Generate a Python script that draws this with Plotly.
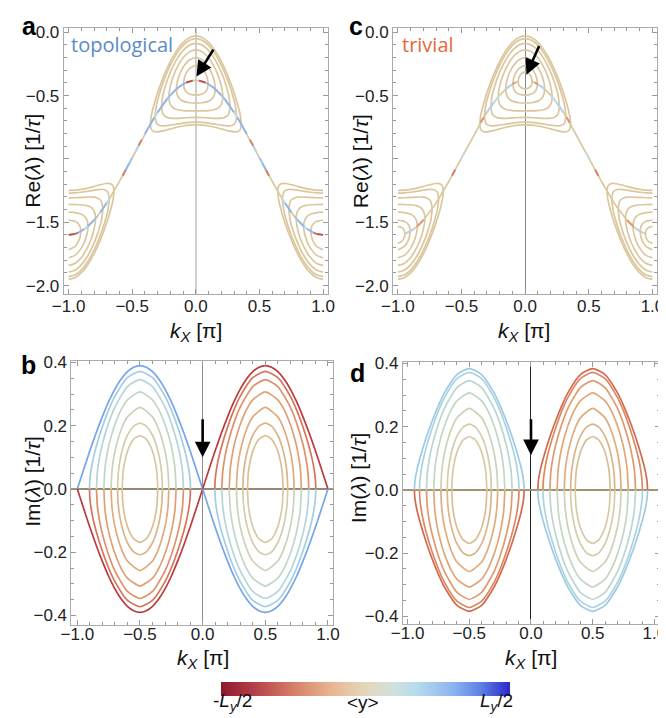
import plotly.graph_objects as go
from plotly.colors import sample_colorscale

# ---------------------------------------------------------------- data
# Re(lambda): degenerate "spine" branch, read on kx in [-1, 0] (figure is mirror symmetric)
spine_kx = [-1.0, -0.975, -0.95, -0.925, -0.9, -0.875, -0.85, -0.825, -0.8, -0.775,
            -0.75, -0.725, -0.7, -0.675, -0.65, -0.625, -0.6, -0.575, -0.55, -0.525,
            -0.5, -0.475, -0.45, -0.425, -0.4, -0.375, -0.35, -0.325, -0.3, -0.275,
            -0.25, -0.225, -0.2, -0.175, -0.15, -0.125, -0.1, -0.075, -0.05, -0.025, 0.0]
spine_re = [-1.6, -1.5981, -1.5925, -1.5832, -1.5701, -1.5536, -1.5335, -1.5101, -1.4835, -1.4538,
            -1.4213, -1.3862, -1.3486, -1.3087, -1.2669, -1.2234, -1.1785, -1.1324, -1.0854, -1.0379,
            -0.99, -0.9421, -0.8946, -0.8476, -0.8015, -0.7566, -0.7131, -0.6713, -0.6314, -0.5938,
            -0.5587, -0.5262, -0.4965, -0.4699, -0.4465, -0.4264, -0.4098, -0.3968, -0.3875, -0.3819, -0.38]
# <y> of the spine between consecutive grid points (None = branch absent)
spine_y_topo = [-0.35, -0.35, -0.3, 0.3, 0.3, 0.15, 0.3, 0.3, 0.25, 0.05,
                0.3, 0.3, 0.15, 0.05, 0.0, 0.0, 0.05, -0.25, 0.3, 0.25,
                0.05, 0.2, -0.25, 0.05, 0.3, 0.3, 0.3, 0.15, 0.3, 0.3,
                0.3, 0.25, 0.3, 0.3, 0.3, 0.3, 0.3, -0.35, -0.35, 0.0]
spine_y_triv = [None, None, 0.0, 0.2, 0.2, 0.0, -0.2, -0.2, 0.0, 0.0,
                0.0, 0.0, 0.0, 0.0, 0.0, 0.0, 0.0, -0.25, 0.0, 0.0,
                0.15, 0.0, 0.0, 0.0, 0.0, 0.0, -0.2, 0.0, 0.2, 0.2,
                0.15, 0.15, 0.0, 0.0, 0.2, 0.2, -0.2, 0.0, None, None]

# split (real) branches of Re(lambda): offset w from kx=0 (centre) or from kx=+-1 (edge)
re_w = [
    [0, 0.05, 0.075, 0.09, 0.097],
    [0, 0.05, 0.1, 0.125, 0.14, 0.15, 0.1528],
    [0, 0.05, 0.1, 0.15, 0.175, 0.19, 0.2, 0.21, 0.2117],
    [0, 0.05, 0.1, 0.15, 0.2, 0.225, 0.25, 0.26, 0.2698],
    [0, 0.05, 0.1, 0.15, 0.2, 0.25, 0.275, 0.3, 0.31, 0.321],
    [0, 0.05, 0.1, 0.15, 0.2, 0.25, 0.3, 0.325, 0.34, 0.35, 0.3575],
]
re_center_upper = [
    [-0.263, -0.2876, -0.3232, -0.3612, -0.4081],
    [-0.2, -0.2185, -0.2758, -0.3254, -0.3691, -0.4145, -0.4489],
    [-0.1394, -0.1547, -0.2015, -0.2835, -0.3419, -0.3863, -0.4235, -0.48, -0.51],
    [-0.0876, -0.1015, -0.1434, -0.2138, -0.315, -0.3802, -0.4615, -0.5045, -0.5863],
    [-0.0502, -0.0633, -0.1028, -0.1682, -0.2593, -0.3777, -0.4495, -0.5352, -0.5783, -0.6645],
    [-0.0286, -0.0414, -0.0797, -0.1429, -0.2301, -0.3409, -0.4766, -0.5577, -0.6142, -0.6606, -0.7261],
]
re_center_lower = [
    [-0.497, -0.4874, -0.4704, -0.4472, -0.4081],
    [-0.56, -0.5565, -0.5438, -0.5274, -0.5071, -0.4785, -0.4489],
    [-0.6206, -0.6203, -0.6181, -0.6095, -0.5979, -0.5847, -0.5695, -0.536, -0.51],
    [-0.6724, -0.6735, -0.6762, -0.6792, -0.678, -0.6722, -0.6559, -0.6405, -0.5863],
    [-0.7098, -0.7117, -0.7168, -0.7248, -0.7337, -0.7397, -0.7383, -0.7276, -0.7159, -0.6645],
    [-0.7314, -0.7336, -0.7399, -0.7501, -0.7629, -0.7765, -0.7862, -0.7849, -0.778, -0.7656, -0.7261],
]
re_edge_upper = [
    [-1.483, -1.4926, -1.5096, -1.5328, -1.5719],
    [-1.42, -1.4235, -1.4362, -1.4526, -1.4729, -1.5015, -1.5311],
    [-1.3594, -1.3597, -1.3619, -1.3705, -1.3821, -1.3953, -1.4105, -1.444, -1.47],
    [-1.3076, -1.3065, -1.3038, -1.3008, -1.302, -1.3078, -1.3241, -1.3395, -1.3937],
    [-1.2702, -1.2683, -1.2632, -1.2552, -1.2463, -1.2403, -1.2417, -1.2524, -1.2641, -1.3155],
    [-1.2486, -1.2464, -1.2401, -1.2299, -1.2171, -1.2035, -1.1938, -1.1951, -1.202, -1.2144, -1.2539],
]
re_edge_lower = [
    [-1.717, -1.6924, -1.6568, -1.6188, -1.5719],
    [-1.78, -1.7615, -1.7042, -1.6546, -1.6109, -1.5655, -1.5311],
    [-1.8406, -1.8253, -1.7785, -1.6965, -1.6381, -1.5937, -1.5565, -1.5, -1.47],
    [-1.8924, -1.8785, -1.8366, -1.7662, -1.665, -1.5998, -1.5185, -1.4755, -1.3937],
    [-1.9298, -1.9167, -1.8772, -1.8118, -1.7207, -1.6023, -1.5305, -1.4448, -1.4017, -1.3155],
    [-1.9514, -1.9386, -1.9003, -1.8371, -1.7499, -1.6391, -1.5034, -1.4223, -1.3658, -1.3194, -1.2539],
]
# extra small split branch of the trivial case
triv0_w = [0, 0.03, 0.05, 0.055]
triv0_center_upper = [-0.313, -0.3267, -0.3595, -0.3891]
triv0_center_lower = [-0.447, -0.4387, -0.4155, -0.3891]
triv0_edge_upper = [-1.533, -1.5413, -1.5645, -1.591]
triv0_edge_lower = [-1.667, -1.6533, -1.6205, -1.591]

# Im(lambda) loops: offset u from loop centre (kx = -0.5 / +0.5) and |Im|
im_u_topo = [
    [0, 0.05, 0.1, 0.15, 0.2, 0.25, 0.3, 0.35, 0.4, 0.45, 0.5],
    [0, 0.1, 0.2, 0.25, 0.3, 0.35, 0.375, 0.39, 0.4, 0.403],
    [0, 0.1, 0.2, 0.25, 0.3, 0.325, 0.34, 0.3472],
    [0, 0.1, 0.15, 0.2, 0.225, 0.25, 0.27, 0.28, 0.2883],
    [0, 0.1, 0.15, 0.2, 0.215, 0.225, 0.2302],
    [0, 0.05, 0.1, 0.125, 0.15, 0.165, 0.175, 0.179],
    [0, 0.05, 0.075, 0.1, 0.12, 0.135, 0.1425],
]
im_topo = [
    [0.39, 0.385, 0.371, 0.348, 0.316, 0.276, 0.229, 0.177, 0.121, 0.061, 0.0],
    [0.372, 0.352, 0.293, 0.25, 0.197, 0.133, 0.093, 0.061, 0.029, 0.0],
    [0.346, 0.324, 0.259, 0.209, 0.142, 0.0955, 0.054, 0.0],
    [0.307, 0.282, 0.251, 0.204, 0.173, 0.135, 0.093, 0.062, 0.0],
    [0.258, 0.228, 0.188, 0.119, 0.085, 0.049, 0.0],
    [0.208, 0.199, 0.17, 0.145, 0.109, 0.077, 0.042, 0.0],
    [0.169, 0.158, 0.1425, 0.119, 0.089, 0.053, 0.0],
]
im_u_triv = [
    [0, 0.1, 0.2, 0.25, 0.3, 0.35, 0.4, 0.425, 0.44, 0.445],
    [0, 0.1, 0.2, 0.25, 0.3, 0.35, 0.375, 0.39, 0.4, 0.403],
    [0, 0.1, 0.2, 0.25, 0.3, 0.325, 0.34, 0.3472],
    [0, 0.1, 0.15, 0.2, 0.225, 0.25, 0.27, 0.28, 0.2883],
    [0, 0.1, 0.15, 0.2, 0.215, 0.225, 0.2302],
    [0, 0.05, 0.1, 0.125, 0.15, 0.165, 0.175, 0.179],
    [0, 0.05, 0.075, 0.1, 0.12, 0.135, 0.1425],
]
im_triv = [
    [0.384, 0.365, 0.308, 0.267, 0.219, 0.164, 0.1, 0.062, 0.029, 0.0],
    [0.372, 0.352, 0.293, 0.25, 0.197, 0.133, 0.093, 0.061, 0.029, 0.0],
    [0.346, 0.324, 0.259, 0.209, 0.142, 0.0955, 0.054, 0.0],
    [0.307, 0.282, 0.251, 0.204, 0.173, 0.135, 0.093, 0.062, 0.0],
    [0.258, 0.228, 0.188, 0.119, 0.085, 0.049, 0.0],
    [0.208, 0.199, 0.17, 0.145, 0.109, 0.077, 0.042, 0.0],
    [0.169, 0.158, 0.1425, 0.119, 0.089, 0.053, 0.0],
]

# tick labels
kx_ticks = [-1.0, -0.5, 0.0, 0.5, 1.0]
kx_ticktext = ["\u22121.0", "\u22120.5", "0.0", "0.5", "1.0"]
re_ticks = [0.0, -0.5, -1.0, -1.5, -2.0]
re_ticktext = ["0.0", "\u22120.5", "", "\u22121.5", "\u22122.0"]
im_ticks = [0.4, 0.2, 0.0, -0.2, -0.4]
im_ticktext = ["0.4", "0.2", "0.0", "\u22120.2", "\u22120.4"]

# ---------------------------------------------------------------- styles
W, H = 666, 718
TAN = "#DBC79E"
CSCALE = [[0.0, "rgb(140,26,46)"], [0.12, "rgb(181,66,74)"], [0.25, "rgb(212,127,102)"],
          [0.38, "rgb(231,182,144)"], [0.5, "rgb(228,215,188)"], [0.6, "rgb(207,225,222)"],
          [0.68, "rgb(182,218,236)"], [0.8, "rgb(141,182,240)"], [0.9, "rgb(94,127,226)"],
          [1.0, "rgb(43,39,204)"]]
topo_blue = ["#76A4EA", "#A4CCE2", "#B4D5D8", "#C2D6C6", "#CBD2B8", "#D3CDAC", "#D9C8A2"]
topo_red = ["#BC3A3E", "#D6735A", "#DF9068", "#E2A072", "#E0AA7C", "#DCB487", "#D9BF93"]
triv_blue = ["#9DCAE6", "#ADD2DE", "#BAD6D0", "#C4D5C3", "#CCD2B7", "#D3CDAB", "#D8C9A3"]
triv_red = ["#D36A4E", "#DB8862", "#E09A6E", "#E1A676", "#E0AC7E", "#DCB487", "#D9BE92"]
FONT = "Liberation Sans, Arial, sans-serif"

fig = go.Figure()


def line(x, y, color, xa, ya, width=1.7, spline=True):
    ld = dict(color=color, width=width)
    if spline:
        ld.update(shape="spline", smoothing=0.6)
    fig.add_trace(go.Scatter(x=x, y=y, mode="lines", line=ld, xaxis=xa, yaxis=ya,
                             hoverinfo="skip", showlegend=False))


def re_panel(xa, ya, modes, seg_y, lo, hi):
    kl = spine_kx[lo:hi + 1]
    rl = spine_re[lo:hi + 1]
    line(kl, rl, TAN, xa, ya, spline=False)
    line([-k for k in kl], rl, TAN, xa, ya, spline=False)
    for (w, cu, cl, eu, el) in modes:
        xs = [-v for v in reversed(w)] + list(w[1:])
        line(xs, list(reversed(cu)) + list(cu[1:]), TAN, xa, ya)
        line(xs, list(reversed(cl)) + list(cl[1:]), TAN, xa, ya)
        for side in (-1, 1):
            xe = [side * (1 - v) for v in w]
            line(xe, eu, TAN, xa, ya)
            line(xe, el, TAN, xa, ya)
    i = 0
    while i < len(seg_y):
        v = seg_y[i]
        if v is None or abs(v) < 0.1:
            i += 1
            continue
        j = i
        while j + 1 < len(seg_y) and seg_y[j + 1] == v:
            j += 1
        col = sample_colorscale(CSCALE, [v + 0.5])[0]
        xs = spine_kx[i:j + 2]
        ys = spine_re[i:j + 2]
        line(xs, ys, col, xa, ya, width=1.9, spline=False)
        line([-k for k in xs], ys, col, xa, ya, width=1.9, spline=False)
        i = j + 1


def im_panel(xa, ya, us, vals, blues, reds):
    for n in reversed(range(len(us))):
        U, V = us[n], vals[n]
        for center in (-0.5, 0.5):
            xs = [center - u for u in reversed(U)] + [center + u for u in U[1:]]
            ys = list(reversed(V)) + list(V[1:])
            c_up = blues[n] if center < 0 else reds[n]
            c_lo = reds[n] if center < 0 else blues[n]
            line(xs, ys, c_up, xa, ya)
            line(xs, [-y for y in ys], c_lo, xa, ya)


modes = list(zip(re_w, re_center_upper, re_center_lower, re_edge_upper, re_edge_lower))
re_panel("x", "y", modes, spine_y_topo, 0, 40)
triv_modes = [(triv0_w, triv0_center_upper, triv0_center_lower, triv0_edge_upper, triv0_edge_lower)] + modes
re_panel("x3", "y3", triv_modes, spine_y_triv, 2, 38)
im_panel("x2", "y2", im_u_topo, im_topo, topo_blue, topo_red)
im_panel("x4", "y4", im_u_triv, im_triv, triv_blue, triv_red)

# colour bar
fig.add_trace(go.Scatter(
    x=[None], y=[None], mode="markers", xaxis="x", yaxis="y", showlegend=False, hoverinfo="skip",
    marker=dict(colorscale=CSCALE, cmin=-0.5, cmax=0.5, color=[0], showscale=True,
                colorbar=dict(orientation="h", x=356 / W, xanchor="center", y=1 - 675 / H,
                              yanchor="top", len=298 / W, lenmode="fraction", thickness=14,
                              thicknessmode="pixels", outlinewidth=0, showticklabels=False,
                              ticks="", xpad=0, ypad=0))))


def px_x(p):
    return p / W


def px_y(p):
    return 1 - p / H


def axis(dom, rng, tv, tt, mdt, anchor, zl=False, zlc="#ccc", zlw=1, standoff=0):
    return dict(domain=dom, range=rng, tickmode="array", tickvals=tv, ticktext=tt,
                ticks="inside", ticklen=5, tickwidth=1, tickcolor="#999999",
                showline=True, linecolor="#ABABAB", linewidth=1, mirror="ticks",
                showgrid=False, zeroline=zl, zerolinecolor=zlc, zerolinewidth=zlw,
                minor=dict(ticks="inside", ticklen=3, dtick=mdt, tick0=0, tickcolor="#999999",
                           showgrid=False),
                tickfont=dict(size=17, color="#222222", family=FONT), anchor=anchor,
                ticklabelstandoff=standoff, fixedrange=True)


layout = dict(
    width=W, height=H, margin=dict(l=0, r=0, t=0, b=0), showlegend=False,
    plot_bgcolor="white", paper_bgcolor="white",
    xaxis=axis([px_x(45), px_x(317)], [-1.038, 1.038], kx_ticks, kx_ticktext, 0.1, "y",
               True, "#CFCFCF", 2, -4),
    yaxis=axis([px_y(283), px_y(13)], [-2.07, 0.035], re_ticks, re_ticktext, 0.1, "x"),
    xaxis3=axis([px_x(384), px_x(656)], [-1.038, 1.038], kx_ticks, kx_ticktext, 0.1, "y3",
                True, "#888888", 1, -4),
    yaxis3=axis([px_y(283), px_y(13)], [-2.07, 0.035], re_ticks, re_ticktext, 0.1, "x3"),
    xaxis2=axis([px_x(53), px_x(322)], [-1.0465, 1.0388], kx_ticks, kx_ticktext, 0.1, "y2",
                True, "#8C8C8C", 1, -7),
    yaxis2=axis([px_y(618), px_y(350)], [-0.431, 0.406], im_ticks, im_ticktext, 0.05, "x2",
                True, "#938B70", 1.5),
    xaxis4=axis([px_x(394), px_x(659)], [-1.039, 1.047], kx_ticks, kx_ticktext, 0.1, "y4",
                True, "#222222", 1.2, -7),
    yaxis4=axis([px_y(617), px_y(351)], [-0.425, 0.406], im_ticks, im_ticktext, 0.05, "x4",
                True, "#A09570", 1.5),
)
fig.update_layout(**layout)

ann = []


def text(px, py, s, size, color="#111111", angle=0, family=FONT, xanchor="center"):
    ann.append(dict(x=px_x(px), y=px_y(py), xref="paper", yref="paper", text=s, showarrow=False,
                    textangle=angle, xanchor=xanchor, yanchor="middle",
                    font=dict(size=size, color=color, family=family)))


# panel letters
text(10, 11, "<b>a</b>", 25, "#000000")
text(9, 354, "<b>b</b>", 25, "#000000")
text(346, 11, "<b>c</b>", 25, "#000000")
text(347, 363, "<b>d</b>", 25, "#000000")
# axis titles
re_title = "Re(<i>\u03bb</i>) [1/<i>\u03c4</i>]"
im_title = "Im(<i>\u03bb</i>) [1/<i>\u03c4</i>]"
kx_title = "<i>k<sub>X</sub></i> [\u03c0]"
text(13, 148, re_title, 21, angle=-90)
text(350, 148, re_title, 21, angle=-90)
text(12, 472, im_title, 21, angle=-90)
text(348, 469, im_title, 21, angle=-90)
text(181, 321, kx_title, 21)
text(519, 321, kx_title, 21)
text(188, 652, kx_title, 21)
text(526, 652, kx_title, 21)
# case labels
text(50, 30, "topological", 20, "#5A8ACB", family="Open Sans, sans-serif", xanchor="left")
text(391, 30, "trivial", 20, "#E8663A", family="Open Sans, sans-serif", xanchor="left")
# colour bar labels
text(197, 696, "-<i>L<sub>y</sub></i>/2", 19, xanchor="left")
text(353, 696, "&lt;y&gt;", 19)
text(510, 696, "<i>L<sub>y</sub></i>/2", 19, xanchor="right")

# arrows
for (xr, yr, x0, y0, x1, y1) in [("x", "y", 0.145, -0.125, 0.005, -0.35),
                                 ("x3", "y3", 0.115, -0.096, 0.01, -0.335),
                                 ("x2", "y2", 0.0, 0.225, 0.0, 0.10),
                                 ("x4", "y4", 0.0, 0.228, 0.0, 0.11)]:
    ann.append(dict(x=x1, y=y1, ax=x0, ay=y0, xref=xr, yref=yr, axref=xr, ayref=yr, text="",
                    showarrow=True, arrowhead=2, arrowsize=1.2, arrowwidth=2.6,
                    arrowcolor="#000000"))

fig.update_layout(annotations=ann)
fig.write_html("out.html")
